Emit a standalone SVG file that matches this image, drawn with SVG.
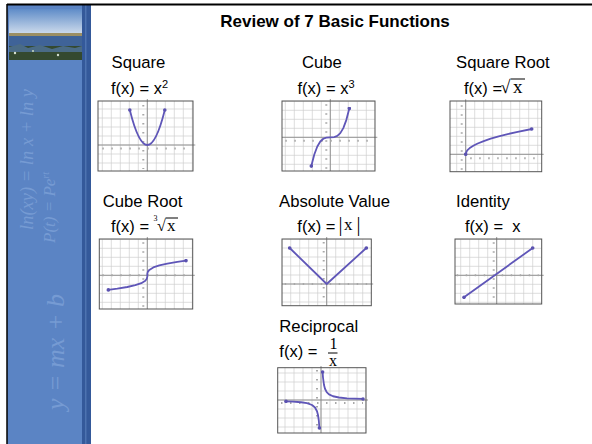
<svg xmlns="http://www.w3.org/2000/svg" width="592" height="444" viewBox="0 0 592 444">
<defs>
  <pattern id="grid" patternUnits="userSpaceOnUse" x="-4.5" y="-4.5" width="9" height="9">
    <path d="M4.5 0V9M0 4.5H9" stroke="#cfcfcf" stroke-width="0.7" fill="none"/>
  </pattern>
  <linearGradient id="sky" x1="0" y1="0" x2="0" y2="1">
    <stop offset="0" stop-color="#5f8cc8"/>
    <stop offset="1" stop-color="#cfdcec"/>
  </linearGradient>
  <marker id="dot" viewBox="-2 -2 4 4" markerWidth="4" markerHeight="4" markerUnits="userSpaceOnUse" refX="0" refY="0">
    <circle r="1.8" fill="#5b52b0"/>
  </marker>
</defs>
<style>
  .lbl { font-family: "Liberation Sans", Arial, sans-serif; font-size: 16.7px; fill: #000; }
  .fx { font-family: "Liberation Sans", Arial, sans-serif; font-size: 16.5px; fill: #000; }
  .ser { font-family: "Liberation Serif", "Times New Roman", serif; fill: #000; }
  .title { font-family: "Liberation Sans", Arial, sans-serif; font-size: 17px; font-weight: bold; fill: #000; }
  .deco { font-family: "Liberation Serif", "Times New Roman", serif; font-style: italic; fill: #769bd3; }
  .frame { fill: none; stroke: #555; stroke-width: 1; }
  .paper { fill: #fff; }
  .gridr { fill: url(#grid); }
  .axis { stroke: #8a8a8a; stroke-width: 0.9; fill: none; }
  .tick { stroke: #a8a8a8; stroke-width: 2; stroke-dasharray: 1.5 7.5; fill: none; }
  .curve { stroke: #5f56b8; stroke-width: 1.8; fill: none; stroke-linejoin: round; stroke-linecap: round; marker-start: url(#dot); marker-end: url(#dot); }
  .rule { stroke: #000; stroke-width: 1; }
</style>

<rect x="0" y="0" width="592" height="444" fill="#fff"/>

<!-- left decorative strip -->
<g id="sidebar">
  <rect x="7" y="5" width="84" height="439" fill="#5b84c4"/>
  <rect x="9" y="9" width="73" height="25" fill="url(#sky)"/>
  <rect x="9" y="33" width="73" height="3" fill="#9c8f63"/>
  <rect x="9" y="36" width="73" height="11" fill="#3f6398"/>
  <rect x="9" y="46" width="73" height="14" fill="#34492f"/>
  <path d="M9 47 L20 44 L28 48 L40 45 L52 49 L63 46 L75 48 L82 46 L82 52 L9 52 Z" fill="#4a6b86"/>
  <circle cx="15" cy="53" r="1.2" fill="#d9e2d0"/>
  <circle cx="33" cy="51" r="1" fill="#c8d8c0"/>
  <circle cx="58" cy="55" r="1.2" fill="#d0dccc"/>
  <rect x="82" y="5" width="9" height="439" fill="#34599a"/>
  <rect x="85" y="5" width="1.5" height="439" fill="#4d73b0"/>
  <text class="deco" font-size="18.5" transform="translate(33,230) rotate(-90)">ln(xy) = ln x + ln y</text>
  <text class="deco" font-size="17" transform="translate(55,243) rotate(-90)">P(t) = Pe<tspan font-size="10" dy="-6">rt</tspan></text>
  <text class="deco" font-size="26" font-style="normal" transform="translate(64,410) rotate(-90)">y = mx + b</text>
</g>

<!-- frame rules -->
<line x1="7" y1="4.5" x2="592" y2="4.5" stroke="#000" stroke-width="2"/>
<line x1="7" y1="4" x2="7" y2="444" stroke="#000" stroke-width="1.5"/>

<text class="title" x="335" y="27" text-anchor="middle">Review of 7 Basic Functions</text>

<!-- Square -->
<g id="node-square">
  <text class="lbl" x="111.5" y="68">Square</text>
  <text class="fx" x="111" y="94">f(x) = x<tspan font-size="11" dy="-6">2</tspan></text>
  <g transform="translate(147.3,145)">
    <rect class="paper" x="-49.3" y="-44" width="95" height="70"/>
    <rect class="gridr" x="-49.3" y="-44" width="95" height="70"/>
    <path class="axis" d="M-49.3 0H48M0 -46V26"/>
    <path class="tick" d="M-45 3.5H45"/>
    <path class="tick" d="M-4 -40V24"/>
    <path class="curve" d="M-17.5 -35 Q0 35 17.5 -35"/>
    <rect class="frame" x="-49.3" y="-44" width="95" height="70"/>
  </g>
</g>

<!-- Cube -->
<g id="node-cube">
  <text class="lbl" x="302" y="68">Cube</text>
  <text class="fx" x="297.5" y="94">f(x) = x<tspan font-size="11" dy="-6">3</tspan></text>
  <g transform="translate(330.3,137.3)">
    <rect class="paper" x="-48.3" y="-36.3" width="93" height="70"/>
    <rect class="gridr" x="-48.3" y="-36.3" width="93" height="70"/>
    <path class="axis" d="M-48.3 0H47M0 -38.3V33.7"/>
    <path class="tick" d="M-45 3.5H44"/>
    <path class="tick" d="M-4 -33V32"/>
    <path class="curve" d="M-19 28.8 L-16 17.2 L-13 9.2 L-10 4.2 L-7 1.44 L-4 0.27 L0 0 L4 -0.27 L7 -1.44 L10 -4.2 L13 -9.2 L16 -17.2 L19 -28.8"/>
    <rect class="frame" x="-48.3" y="-36.3" width="93" height="70"/>
  </g>
</g>

<!-- Square Root -->
<g id="node-sqrt">
  <text class="lbl" x="456" y="68">Square Root</text>
  <text class="fx" x="464" y="94" font-size="13.5">f(x) =</text>
  <text class="ser" x="500.5" y="93" font-size="18">√</text>
  <text class="ser" x="513" y="93" font-size="19">x</text>
  <line class="rule" x1="510.5" y1="79" x2="525" y2="79"/>
  <g transform="translate(465.7,154.3)">
    <rect class="paper" x="-15.7" y="-53.3" width="91.7" height="70.7"/>
    <rect class="gridr" x="-15.7" y="-53.3" width="91.7" height="70.7"/>
    <path class="axis" d="M-15.7 0H78M0 -55V17.4"/>
    <path class="tick" d="M4.5 4H75"/>
    <path class="tick" d="M-4 -49V16"/>
    <path class="curve" d="M0 0 L1 -3.1 L2 -4.4 L4 -6.2 L8 -8.8 L12 -10.8 L18 -13.2 L25 -15.6 L33 -17.9 L42 -20.2 L52 -22.4 L66 -25.3"/>
    <rect class="frame" x="-15.7" y="-53.3" width="91.7" height="70.7"/>
  </g>
</g>

<!-- Cube Root -->
<g id="node-cbrt">
  <text class="lbl" x="102.7" y="207.3">Cube Root</text>
  <text class="fx" x="111" y="231.5">f(x) =</text>
  <text class="ser" x="153.5" y="220.5" font-size="8">3</text>
  <text class="ser" x="157" y="231" font-size="16">√</text>
  <text class="ser" x="167" y="231" font-size="17">x</text>
  <line class="rule" x1="165.5" y1="218" x2="178" y2="218"/>
  <g transform="translate(147.3,275.3)">
    <rect class="paper" x="-48" y="-36.3" width="93.4" height="70"/>
    <rect class="gridr" x="-48" y="-36.3" width="93.4" height="70"/>
    <path class="axis" d="M-48 0H47.5M0 -38.3V33.7"/>
    <path class="tick" d="M-45 0H44" stroke-width="2.5"/>
    <path class="tick" d="M-4 -33V32"/>
    <path class="curve" d="M-39 14.6 L-30 13.4 L-20 11.7 L-12 9.9 L-6 7.85 L-2 5.4 L-0.5 3.4 L-0.05 1.6 L0 0 L0.05 -1.6 L0.5 -3.4 L2 -5.4 L6 -7.85 L12 -9.9 L20 -11.7 L30 -13.4 L38.7 -14.6"/>
    <rect class="frame" x="-48" y="-36.3" width="93.4" height="70"/>
  </g>
</g>

<!-- Absolute Value -->
<g id="node-abs">
  <text class="lbl" x="279" y="207.3">Absolute Value</text>
  <text class="fx" x="297.3" y="231.5">f(x) =</text>
  <text class="ser" x="338.5" y="231" font-size="20">|</text>
  <text class="ser" x="344" y="230" font-size="17">x</text>
  <text class="ser" x="356.5" y="231" font-size="20">|</text>
  <g transform="translate(326.7,284)">
    <rect class="paper" x="-44.7" y="-45" width="89.3" height="66.7"/>
    <rect class="gridr" x="-44.7" y="-45" width="89.3" height="66.7"/>
    <path class="axis" d="M-44.7 0H46.5M0 -47V21.7"/>
    <path class="tick" d="M-42 0H42" stroke-width="2.5"/>
    <path class="tick" d="M-3 -42V20"/>
    <path class="curve" d="M-37 -36 L0 0 L39.6 -36"/>
    <rect class="frame" x="-44.7" y="-45" width="89.3" height="66.7"/>
  </g>
</g>

<!-- Identity -->
<g id="node-identity">
  <text class="lbl" x="456" y="207.3">Identity</text>
  <text class="fx" x="465" y="231.5" xml:space="preserve">f(x) =  x</text>
  <g transform="translate(496.7,275.3)">
    <rect class="paper" x="-41.7" y="-36.3" width="86.7" height="65"/>
    <rect class="gridr" x="-41.7" y="-36.3" width="86.7" height="65"/>
    <path class="axis" d="M-41.7 0H47M0 -38.3V28.7"/>
    <path class="tick" d="M-40 0H42" stroke-width="2.5"/>
    <path class="tick" d="M-3 -33V27"/>
    <path class="curve" d="M-32.7 22 L36 -27.3"/>
    <rect class="frame" x="-41.7" y="-36.3" width="86.7" height="65"/>
  </g>
</g>

<!-- Reciprocal -->
<g id="node-reciprocal">
  <text class="lbl" x="279.3" y="331.7">Reciprocal</text>
  <text class="fx" x="279.3" y="357.3">f(x) =</text>
  <text class="ser" x="329.5" y="349" font-size="16">1</text>
  <line class="rule" x1="328" y1="353" x2="337.5" y2="353"/>
  <text class="ser" x="329" y="366" font-size="16">x</text>
  <g transform="translate(321,400)">
    <rect class="paper" x="-43.3" y="-32.3" width="88.3" height="65.3"/>
    <rect class="gridr" x="-43.3" y="-32.3" width="88.3" height="65.3"/>
    <path class="axis" d="M-43.3 0H47M0 -34V33"/>
    <path class="tick" d="M-40 3H42"/>
    <path class="tick" d="M-4 -30V31"/>
    <path class="curve" d="M1.6 -28 L2 -22.5 L3 -15 L4 -11.25 L5.7 -7.9 L8 -5.6 L12 -3.75 L18 -2.5 L26 -1.7 L34 -1.3 L42 -1.07"/>
    <path class="curve" d="M-35 1.29 L-28 1.6 L-20 2.25 L-14 3.2 L-9 5 L-6 7.5 L-4 11.25 L-3 15 L-2.2 20.5 L-1.6 28"/>
    <rect class="frame" x="-43.3" y="-32.3" width="88.3" height="65.3"/>
  </g>
</g>
</svg>
